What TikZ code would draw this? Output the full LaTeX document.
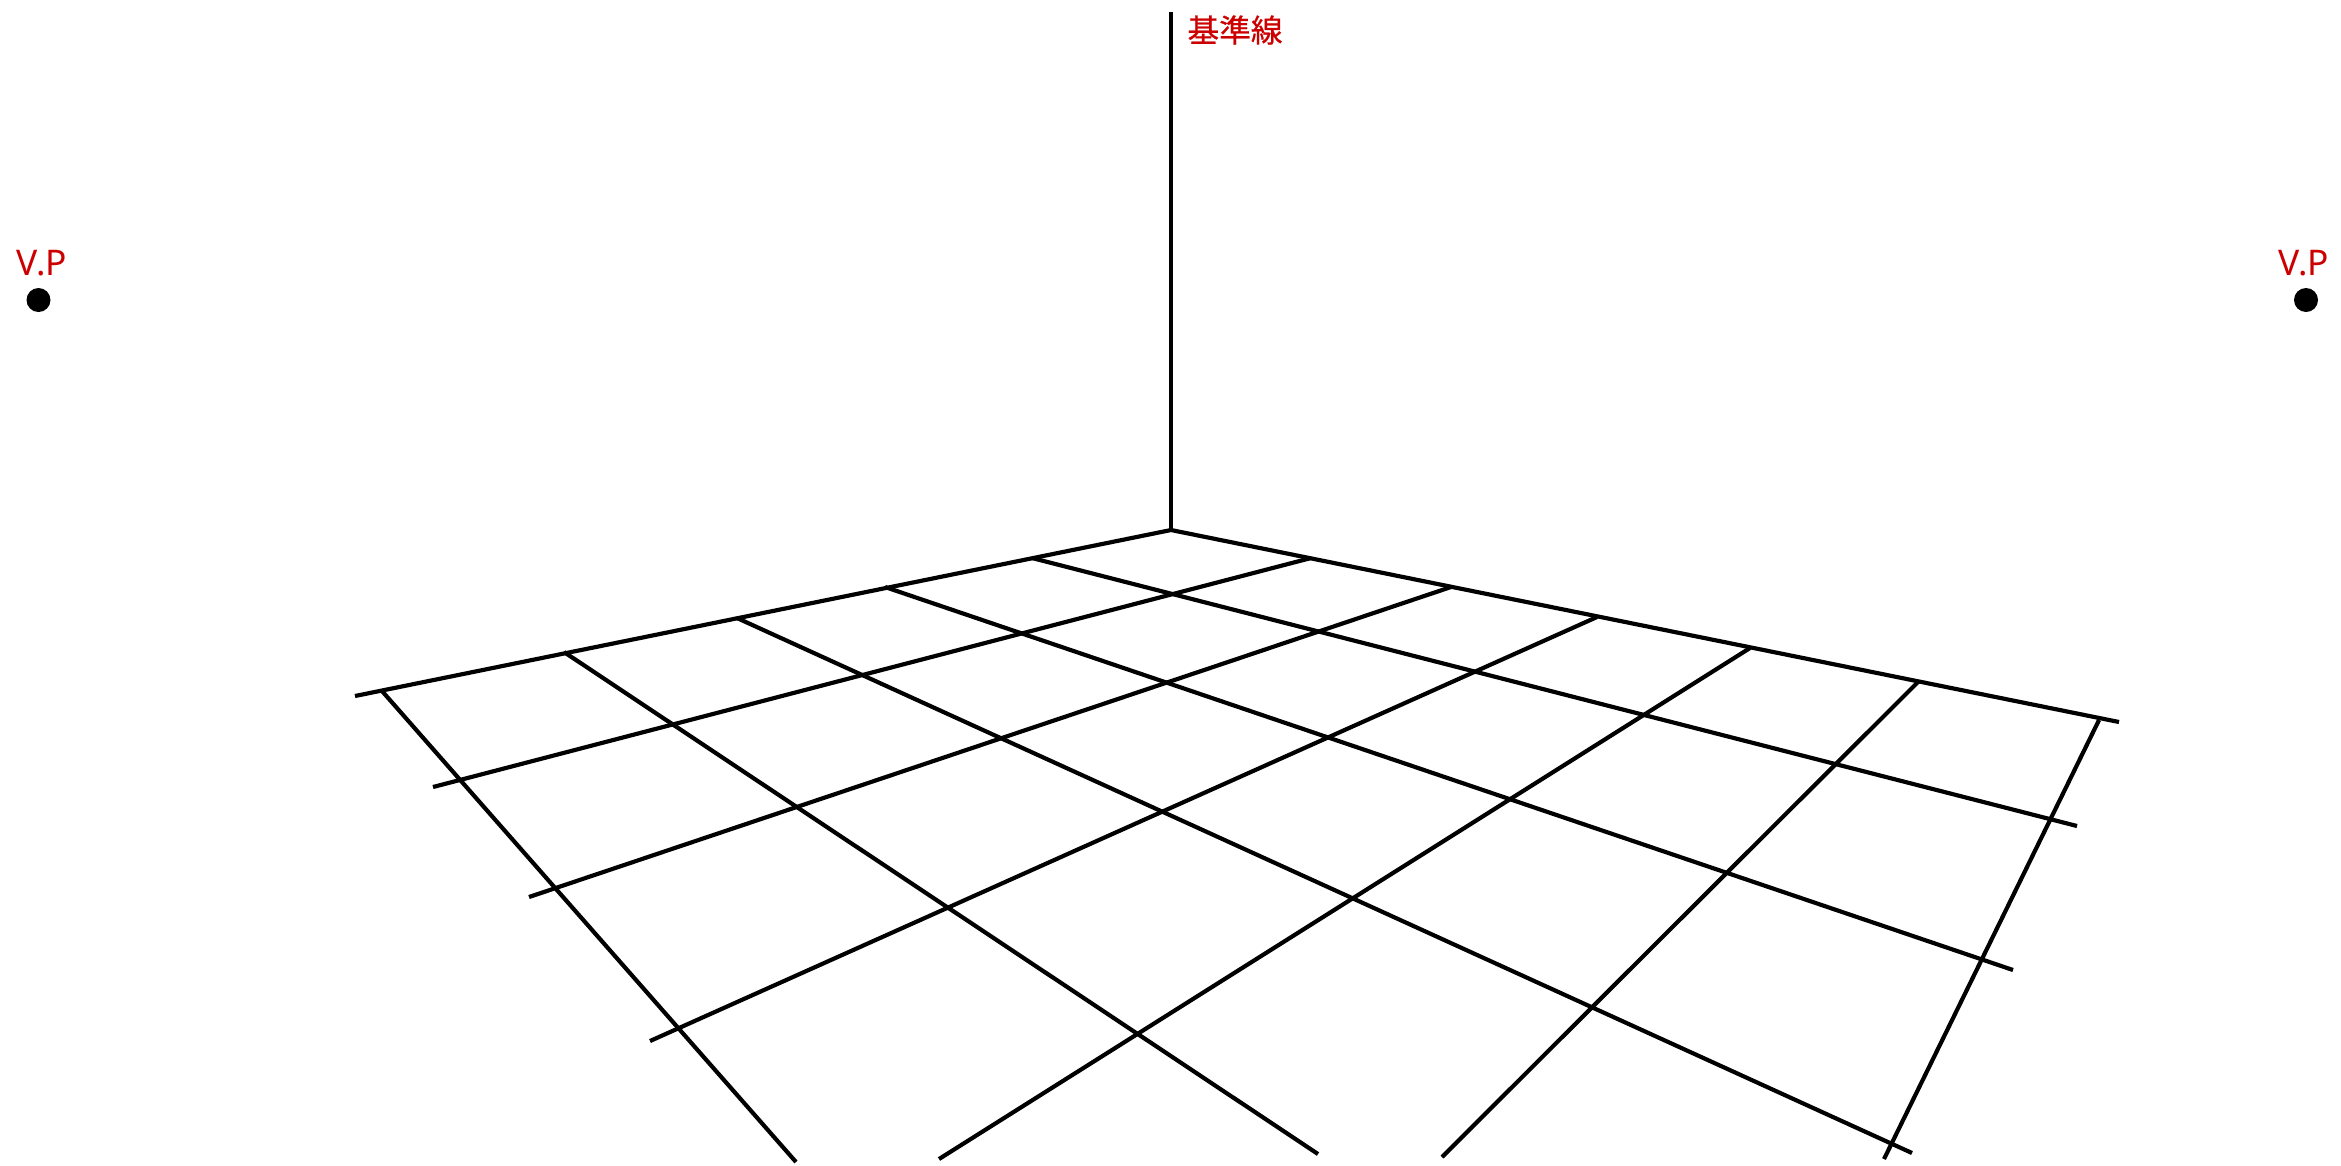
\documentclass[tikz,border=0pt]{standalone}
\usepackage{fontspec}
\setmainfont{Noto Sans}
\newfontfamily\cjk[FakeBold=0.6]{Noto Sans CJK JP}
\usepackage{xcolor}
\definecolor{myred}{RGB}{204,0,0}
\tikzset{
  gridline/.style={black,line width=1.25pt},
  vpdot/.style={circle,fill=black,inner sep=0pt,minimum size=7.2pt},
  vplabel/.style={font=\fontsize{10.6pt}{12pt}\selectfont,text=myred,inner sep=0pt,anchor=base},
}
\begin{document}
\begin{tikzpicture}[x=0.3pt,y=-0.3pt]
    \useasboundingbox (0,0) rectangle (2341,1165);
    % vertical line and ground edges
    \draw[gridline] (1171,12) -- (1171,530);
    \draw[gridline] (355,696) -- (1171,530) -- (2119,722);
    % lines going down to the left
    \foreach \xa/\ya/\xb/\yb in {1311/558/433/787, 1451/587/529/897, 1597/617/650/1041, 1750/648/939/1159, 1918/682/1442/1157, 2099/720/1884/1159} {
      \draw[gridline] (\xa,\ya) -- (\xb,\yb);
    }
    % lines going down to the right
    \foreach \xa/\ya/\xb/\yb in {1032/558/2077/826, 885/587/2013/970, 737/618/1912/1153, 564/652/1318/1154, 382/691/796/1162} {
      \draw[gridline] (\xa,\ya) -- (\xb,\yb);
    }
    \node[vpdot] (vpleft) at (38.5,300) {};
    \node[vpdot] (vpright) at (2306,300) {};
    \node[vplabel] (vplabelleft) at (42,275) {V.P};
    \node[vplabel] (vplabelright) at (2304,275) {V.P};
    \node[font=\cjk\fontsize{9.5pt}{11pt}\selectfont,text=myred,inner sep=0pt] (baseline) at (1235,30) {基準線};
  \end{tikzpicture}
\end{document}
